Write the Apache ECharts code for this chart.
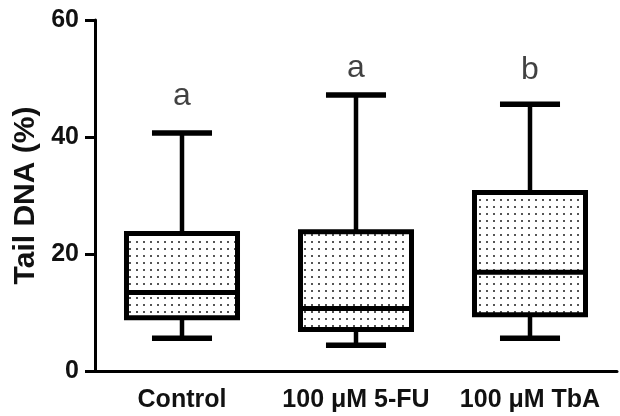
<!DOCTYPE html>
<html>
<head>
<meta charset="utf-8">
<script src="https://cdn.jsdelivr.net/npm/echarts@6/dist/echarts.min.js"></script>
<style>html,body{margin:0;padding:0;background:#fff}#c{width:620px;height:416px}</style>
</head>
<body>
<div id="c"></div>
<script>
const categories = ['Control', '100 μM 5-FU', '100 μM TbA'];
const whiskerMin = [5.6, 4.4, 5.6];
const q1 = [9.1, 7.1, 9.6];
const median = [13.4, 10.7, 16.9];
const q3 = [23.5, 23.8, 30.5];
const whiskerMax = [40.7, 47.2, 45.6];
const letters = ['a', 'a', 'b'];
const letterPos = [44.2, 49.0, 48.7];
const yTicks = [0, 20, 40, 60];

const FONT = "'Liberation Sans', Arial, Helvetica, sans-serif";

// dotted fill pattern
const pc = document.createElement('canvas');
pc.width = 7; pc.height = 7;
const pctx = pc.getContext('2d');
pctx.fillStyle = '#fff';
pctx.fillRect(0, 0, 7, 7);
pctx.fillStyle = '#555';
pctx.fillRect(3, 3, 2, 2);
const pattern = { image: pc, repeat: 'repeat' };

const boxData = categories.map((c, i) => [i, whiskerMin[i], q1[i], median[i], q3[i], whiskerMax[i]]);

function renderItem(params, api) {
  const x = api.value(0);
  const pMin = api.coord([x, api.value(1)]);
  const pQ1 = api.coord([x, api.value(2)]);
  const pMed = api.coord([x, api.value(3)]);
  const pQ3 = api.coord([x, api.value(4)]);
  const pMax = api.coord([x, api.value(5)]);
  const band = api.size([1, 0])[0];
  const bw = band * 0.638;
  const cw = band * 0.345;
  const cx = pMed[0];
  const ls = { stroke: '#000', lineWidth: 4.5 };
  const cs = { stroke: '#000', lineWidth: 5.5 };
  return {
    type: 'group',
    children: [
      { type: 'line', shape: { x1: cx, y1: pMax[1], x2: cx, y2: pQ3[1] }, style: ls },
      { type: 'line', shape: { x1: cx, y1: pQ1[1], x2: cx, y2: pMin[1] }, style: ls },
      { type: 'line', shape: { x1: cx - cw / 2, y1: pMax[1], x2: cx + cw / 2, y2: pMax[1] }, style: cs },
      { type: 'line', shape: { x1: cx - cw / 2, y1: pMin[1], x2: cx + cw / 2, y2: pMin[1] }, style: cs },
      { type: 'rect', shape: { x: cx - bw / 2, y: pQ3[1], width: bw, height: pQ1[1] - pQ3[1] },
        style: { fill: pattern, stroke: '#000', lineWidth: 5 } },
      { type: 'line', shape: { x1: cx - bw / 2, y1: pMed[1], x2: cx + bw / 2, y2: pMed[1] }, style: { stroke: '#000', lineWidth: 5 } }
    ]
  };
}

const chart = echarts.init(document.getElementById('c'), null, { renderer: 'canvas' });
chart.setOption({
  animation: false,
  backgroundColor: '#fff',
  grid: { left: 95, right: 3, top: 20, bottom: 45, containLabel: false },
  xAxis: {
    type: 'category',
    data: categories,
    boundaryGap: true,
    axisLine: { lineStyle: { color: '#000', width: 3 } },
    axisTick: { alignWithLabel: true, length: 10, lineStyle: { color: '#000', width: 3 } },
    axisLabel: { interval: 0, hideOverlap: false, color: '#111', fontSize: 25, fontWeight: 'bold', fontFamily: FONT, margin: 17 },
    splitLine: { show: false }
  },
  yAxis: {
    type: 'value',
    min: yTicks[0],
    max: yTicks[yTicks.length - 1],
    interval: yTicks[1] - yTicks[0],
    name: 'Tail DNA (%)',
    nameLocation: 'middle',
    nameRotate: 90,
    nameGap: 52,
    nameTextStyle: { color: '#111', fontSize: 30, fontWeight: 'bold', fontFamily: FONT },
    axisLine: { show: true, lineStyle: { color: '#000', width: 3 } },
    axisTick: { show: true, length: 10, lineStyle: { color: '#000', width: 3 } },
    axisLabel: { color: '#111', fontSize: 25, fontWeight: 'bold', fontFamily: FONT, margin: 16 },
    splitLine: { show: false }
  },
  series: [
    {
      type: 'custom',
      renderItem: renderItem,
      data: boxData,
      encode: { x: 0, y: [1, 2, 3, 4, 5] },
      clip: false
    },
    {
      type: 'scatter',
      symbolSize: 0,
      data: letterPos.map((v, i) => [i, v]),
      label: {
        show: true,
        position: 'top',
        distance: 0,
        formatter: p => letters[p.dataIndex],
        color: '#111',
        fontSize: 32,
        fontFamily: FONT
      }
    }
  ]
});
</script>
</body>
</html>
